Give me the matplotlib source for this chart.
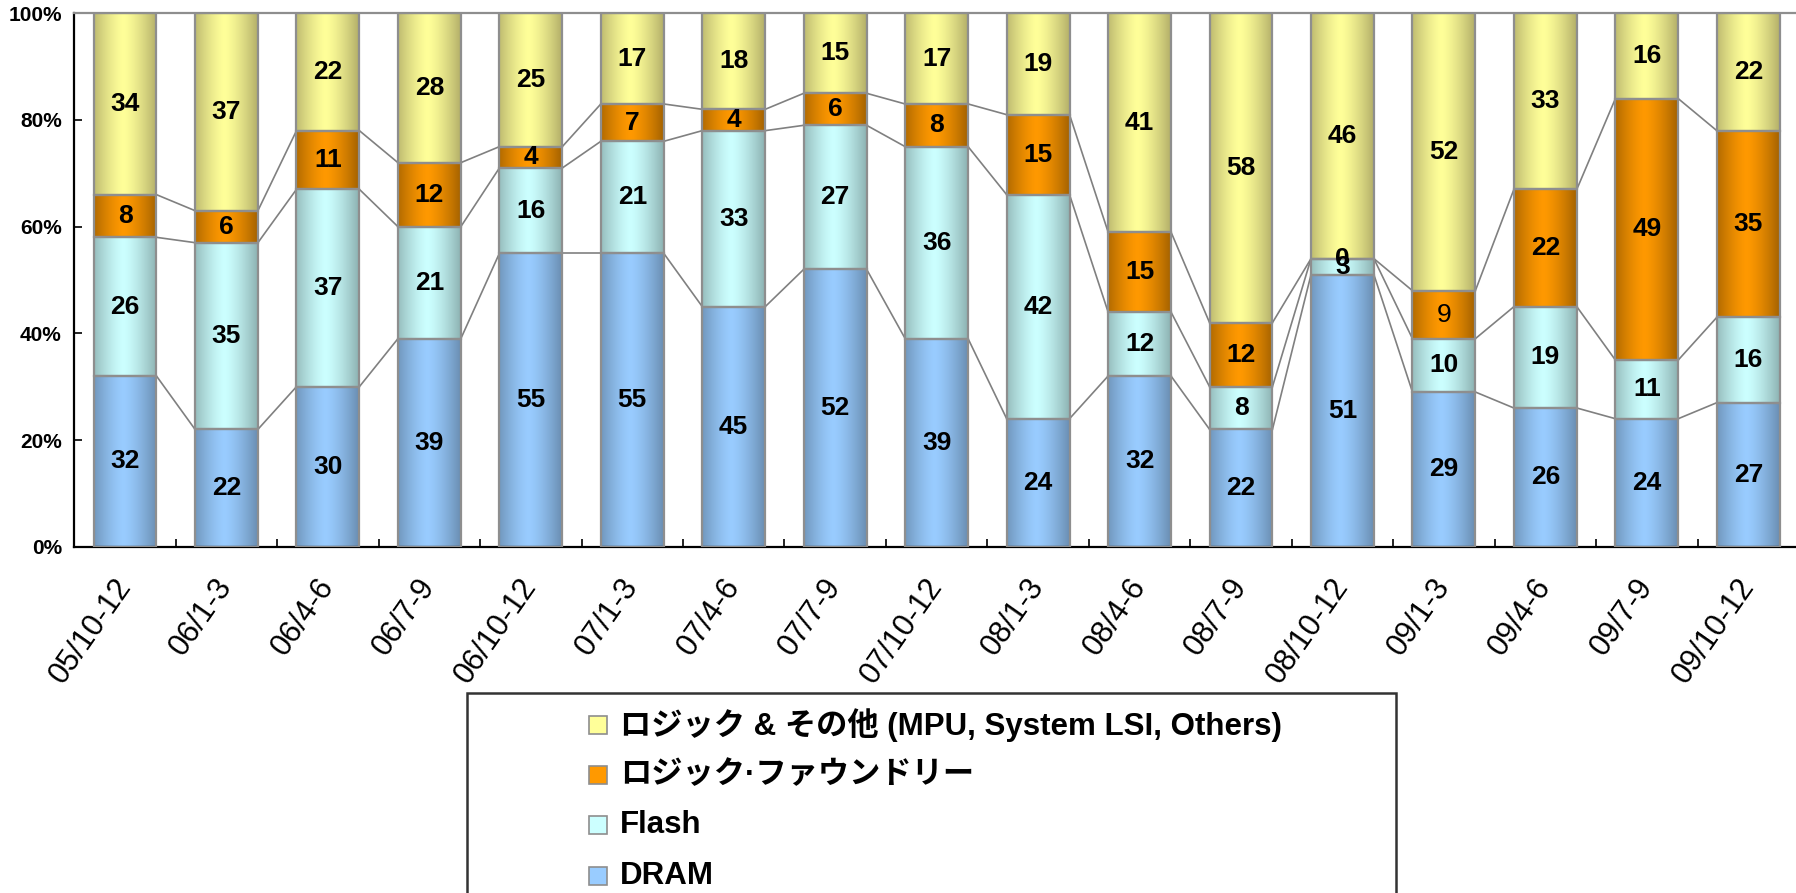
import numpy as np
import matplotlib
matplotlib.use("Agg")
import matplotlib.pyplot as plt
from matplotlib.patches import Rectangle
from matplotlib.colors import to_rgb

# ---------------- data ----------------
categories = ["05/10-12", "06/1-3", "06/4-6", "06/7-9", "06/10-12", "07/1-3", "07/4-6",
              "07/7-9", "07/10-12", "08/1-3", "08/4-6", "08/7-9", "08/10-12", "09/1-3",
              "09/4-6", "09/7-9", "09/10-12"]
dram = [32, 22, 30, 39, 55, 55, 45, 52, 39, 24, 32, 22, 51, 29, 26, 24, 27]
flash = [26, 35, 37, 21, 16, 21, 33, 27, 36, 42, 12, 8, 3, 10, 19, 11, 16]
foundry = [8, 6, 11, 12, 4, 7, 4, 6, 8, 15, 15, 12, 0, 9, 22, 49, 35]
logic = [34, 37, 22, 28, 25, 17, 18, 15, 17, 19, 41, 58, 46, 52, 33, 16, 22]

series_names = ["DRAM", "Flash", "ロジック·ファウンドリー",
                "ロジック & その他 (MPU, System LSI, Others)"]
series_vals = [dram, flash, foundry, logic]
center_cols = ["#99CCFF", "#CCFFFF", "#FF9900", "#FFFF99"]
edge_cols = ["#6A8EB2", "#8DB2B2", "#A46200", "#B3AF69"]
yticks = [0, 20, 40, 60, 80, 100]
ytick_labels = ["0%", "20%", "40%", "60%", "80%", "100%"]

W, H = 1796, 893
fig = plt.figure(figsize=(W / 100, H / 100), dpi=100)
ax_l, ax_r, ax_t, ax_b = 74.3, 1799.0, 13.3, 546.7
ax = fig.add_axes([ax_l / W, (H - ax_b) / H, (ax_r - ax_l) / W, (ax_b - ax_t) / H])

x = np.arange(len(categories))
bw = 0.62
t = np.linspace(0, 1, 128)
c = 0.47
w = np.clip(1 - (np.abs(t - c) / max(c, 1 - c)) ** 1.4, 0, 1)

bottom = np.zeros(len(categories))
levels = []
for vals, cc, ec in zip(series_vals, center_cols, edge_cols):
    vals = np.array(vals, dtype=float)
    bars = ax.bar(x, vals, width=bw, bottom=bottom, facecolor="none",
                  edgecolor="#8E8E8E", linewidth=1.6, zorder=3)
    cen = np.array(to_rgb(cc)); edg = np.array(to_rgb(ec))
    grad = edg[None, :] + (cen - edg)[None, :] * w[:, None]
    img = grad[None, :, :]
    for b in bars:
        if b.get_height() > 0:
            x0 = b.get_x(); y0 = b.get_y()
            ax.imshow(img, extent=(x0, x0 + b.get_width(), y0, y0 + b.get_height()),
                      aspect="auto", interpolation="bilinear", zorder=2)
    bottom = bottom + vals
    levels.append(bottom.copy())

# connector lines between bars
for lev in levels[:3]:
    for i in range(len(categories) - 1):
        ax.plot([x[i] + bw / 2, x[i + 1] - bw / 2], [lev[i], lev[i + 1]],
                color="#808080", linewidth=1.2, zorder=1.5)

# value labels
bottom = np.zeros(len(categories))
for si, vals in enumerate(series_vals):
    for i, v in enumerate(vals):
        yc = bottom[i] + v / 2
        weight = "normal" if (si == 2 and categories[i] == "09/1-3") else "bold"
        ax.text(x[i], yc, str(v), ha="center", va="center", fontsize=19,
                fontweight=weight, family="Liberation Sans", zorder=5)
    bottom = bottom + np.array(vals)

ax.set_xlim(-0.5, len(categories) - 0.5)
ax.set_ylim(0, 100)
ax.set_yticks(yticks)
ax.set_yticklabels(ytick_labels, fontsize=15, fontweight="bold", family="Liberation Sans")
ax.tick_params(axis="y", direction="in", length=6, width=1.2, pad=9)
ax.set_xticks(np.arange(len(categories) - 1) + 0.5)
ax.set_xticklabels([])
ax.tick_params(axis="x", which="major", direction="in", length=6, width=1.2)
ax.set_xticks(x, minor=True)
ax.set_xticklabels(categories, minor=True, rotation=55, ha="right", va="center",
                   rotation_mode="anchor", fontsize=22, family="Liberation Sans")
ax.tick_params(axis="x", which="minor", length=0, pad=25)

for s in ["left", "bottom"]:
    ax.spines[s].set_linewidth(1.6)
    ax.spines[s].set_color("black")
ax.spines["top"].set_color("#8E8E8E")
ax.spines["top"].set_linewidth(1.6)
ax.spines["right"].set_visible(False)

# legend box
bx0, bx1, by0 = 466.7, 1395.7, 692.7
fig.add_artist(Rectangle((bx0 / W, -0.05), (bx1 - bx0) / W, (H - by0) / H + 0.05,
                         transform=fig.transFigure, facecolor="white",
                         edgecolor="#333333", linewidth=1.8))
rows_y = [725, 775, 825, 876]
order = [3, 2, 1, 0]
for ry, si in zip(rows_y, order):
    fig.add_artist(Rectangle((589 / W, (H - ry - 9) / H), 18 / W, 18 / H,
                             transform=fig.transFigure, facecolor=center_cols[si],
                             edgecolor="#8E8E8E", linewidth=1.2))
    fig.text(620 / W, (H - ry) / H, series_names[si], ha="left", va="center",
             fontsize=22.5, fontweight="bold",
             family=["Liberation Sans", "Noto Sans CJK JP"])

fig.savefig("out.png", dpi=100)
